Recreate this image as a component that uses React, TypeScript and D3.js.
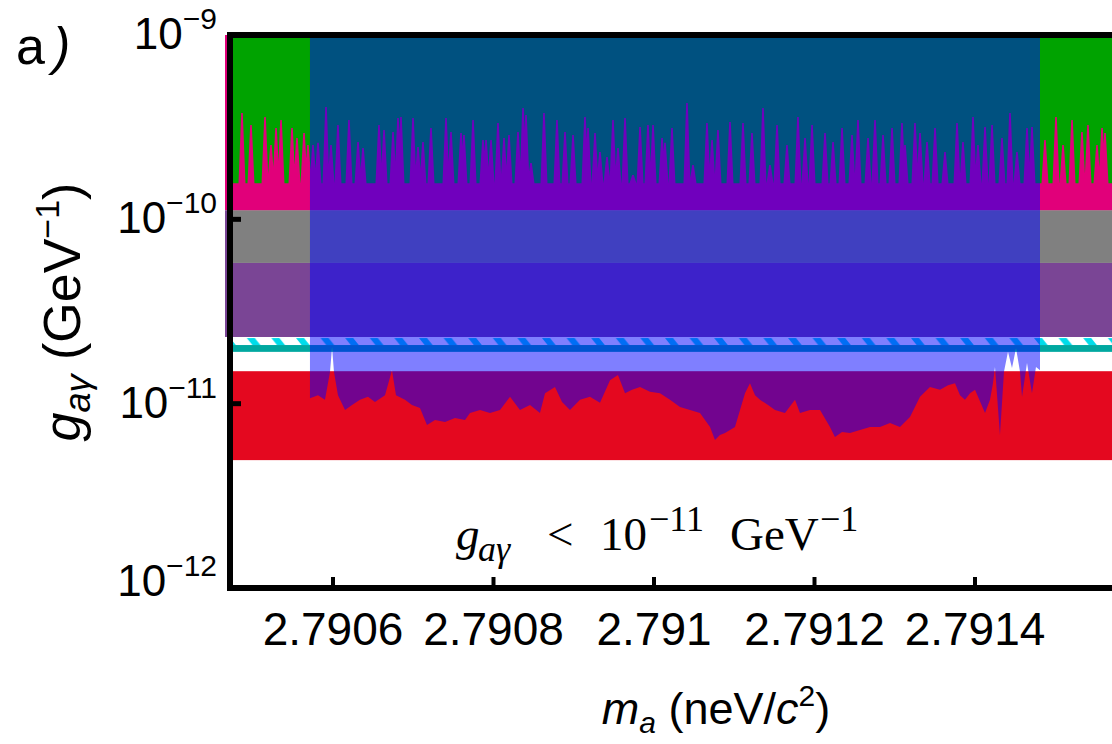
import React from 'react';
import * as d3 from 'd3';

// axis ticks
const massTicks = [2.7906, 2.7908, 2.791, 2.7912, 2.7914];
const massTickLabels = ['2.7906', '2.7908', '2.791', '2.7912', '2.7914'];
const couplingTicks = [1e-12, 1e-11, 1e-10, 1e-9];
const couplingTickExps = ['−12', '−11', '−10', '−9'];

// flat exclusion bands in g (GeV^-1), lower / upper edge
const bandKeys = ['green', 'gray', 'purple', 'hatch', 'line', 'red'];
const bandLower = [1.12e-10, 5.8e-11, 2.3e-11, 2.08e-11, 1.91e-11, 4.94e-12];
const bandUpper = [1e-9, 1.12e-10, 5.8e-11, 2.27e-11, 2.08e-11, 1.5e-11];

// pink band with a spiky upper edge
const pinkFloor = 1.12e-10;
const pinkBaseline = 1.57e-10;
const pinkPeakMass = [
  2.7904866, 2.7904978, 2.7905153, 2.7905227, 2.790529, 2.7905352, 2.7905489, 2.7905551, 2.7905639, 2.7905688,
  2.7905751, 2.7905813, 2.7905913, 2.7905975, 2.7906062, 2.7906199, 2.7906312, 2.7906374, 2.7906573, 2.7906636,
  2.7906748, 2.790681, 2.7906847, 2.7906997, 2.7907059, 2.7907121, 2.7907221, 2.7907408, 2.790747, 2.7907595,
  2.7907632, 2.7907745, 2.7907869, 2.7907907, 2.7907969, 2.7908056, 2.7908131, 2.7908193, 2.7908305, 2.7908368,
  2.7908405, 2.7908467, 2.7908629, 2.7908791, 2.7908891, 2.7908991, 2.790914, 2.7909178, 2.7909265, 2.7909327,
  2.7909414, 2.7909489, 2.7909551, 2.7909639, 2.7909738, 2.7909826, 2.7909925, 2.7909988, 2.79101, 2.7910137,
  2.7910224, 2.7910411, 2.7910486, 2.791066, 2.7910723, 2.7910797, 2.7910947, 2.7911109, 2.7911221, 2.7911358,
  2.7911445, 2.7911533, 2.7911657, 2.7911794, 2.7911882, 2.7911969, 2.7912131, 2.7912231, 2.7912343, 2.7912467,
  2.7912542, 2.7912667, 2.7912754, 2.7912854, 2.7912966, 2.791309, 2.7913128, 2.7913252, 2.7913315, 2.7913402,
  2.7913502, 2.7913626, 2.7913776, 2.791385, 2.7913975, 2.7914037, 2.7914125, 2.7914212, 2.7914336, 2.7914436,
  2.7914523, 2.7914648, 2.791471, 2.7914872, 2.7915009, 2.7915097, 2.7915209, 2.7915333, 2.7915408, 2.791552,
  2.7915583, 2.791562,
];
const pinkPeakG = [
  3.78e-10, 3.25e-10, 3.59e-10, 2.53e-10, 3.13e-10, 3.46e-10, 3.13e-10, 2.76e-10, 2.94e-10, 2.53e-10,
  2.53e-10, 2.6e-10, 4.07e-10, 2.53e-10, 3.25e-10, 3.46e-10, 2.63e-10, 2.44e-10, 3.25e-10, 3.05e-10,
  2.98e-10, 3.55e-10, 3.59e-10, 3.55e-10, 2.47e-10, 2.63e-10, 3.13e-10, 3.55e-10, 2.98e-10, 2.94e-10,
  2.87e-10, 3.46e-10, 2.69e-10, 2.69e-10, 2.69e-10, 3.33e-10, 2.76e-10, 2.87e-10, 2.98e-10, 4.02e-10,
  3.68e-10, 2.02e-10, 3.78e-10, 3.46e-10, 2.98e-10, 2.87e-10, 3.59e-10, 3.13e-10, 2.94e-10, 2.32e-10,
  2.18e-10, 3.46e-10, 2.44e-10, 3.55e-10, 1.74e-10, 3.17e-10, 3.25e-10, 3.25e-10, 2.76e-10, 2.6e-10,
  3.13e-10, 4.28e-10, 1.97e-10, 3.33e-10, 2.69e-10, 3.05e-10, 3.37e-10, 3.33e-10, 2.94e-10, 4.02e-10,
  1.97e-10, 3.25e-10, 2.53e-10, 3.59e-10, 2.76e-10, 3.25e-10, 2.94e-10, 2.63e-10, 3.13e-10, 2.87e-10,
  3.46e-10, 2.76e-10, 3.46e-10, 2.87e-10, 3.13e-10, 3.33e-10, 2.53e-10, 3.33e-10, 2.94e-10, 2.63e-10,
  3.13e-10, 2.32e-10, 3.33e-10, 2.63e-10, 3.59e-10, 2.53e-10, 3.17e-10, 3.25e-10, 2.76e-10, 3.78e-10,
  2.32e-10, 3.13e-10, 3.17e-10, 2.69e-10, 3.59e-10, 2.53e-10, 3.46e-10, 2.98e-10, 3.25e-10, 2.53e-10,
  3.13e-10, 2.94e-10,
];

// scanned region (blue overlay), lower limit per mass
const scanTop = 1e-9;
const scanMass = [
  2.7905713, 2.7905813, 2.79059, 2.7905963, 2.7905988, 2.7906012, 2.7906062, 2.790615, 2.7906237, 2.7906336,
  2.7906436, 2.7906523, 2.7906648, 2.7906735, 2.7906785, 2.7906897, 2.7906984, 2.7907084, 2.7907171, 2.7907271,
  2.7907396, 2.790752, 2.7907645, 2.7907707, 2.7907832, 2.7907956, 2.7908081, 2.7908206, 2.790833, 2.7908455,
  2.7908579, 2.7908642, 2.7908766, 2.7908854, 2.7908953, 2.7909078, 2.7909202, 2.7909327, 2.7909452, 2.7909551,
  2.7909639, 2.7909726, 2.7909826, 2.790995, 2.7910075, 2.7910199, 2.7910324, 2.7910449, 2.7910573, 2.7910698,
  2.791076, 2.7910822, 2.7910885, 2.7911009, 2.7911134, 2.7911196, 2.7911259, 2.7911321, 2.7911421, 2.7911508,
  2.7911632, 2.7911757, 2.7911819, 2.7911944, 2.7912069, 2.7912193, 2.7912255, 2.7912343, 2.7912442, 2.7912567,
  2.7912692, 2.7912816, 2.7912941, 2.7913065, 2.791319, 2.7913315, 2.7913439, 2.7913564, 2.7913664, 2.7913751,
  2.7913813, 2.7913875, 2.7913938, 2.7914, 2.7914125, 2.7914187, 2.7914224, 2.7914249, 2.7914311, 2.7914361,
  2.7914411, 2.7914461, 2.7914511, 2.7914561, 2.7914586, 2.7914648, 2.791471, 2.791476, 2.791481,
];
const scanLimit = [
  1.07e-11, 1.11e-11, 1.05e-11, 1.49e-11, 2.03e-11, 1.49e-11, 1.11e-11, 9.24e-12, 9.83e-12, 1.05e-11,
  1.09e-11, 1.02e-11, 1.11e-11, 1.52e-11, 1.11e-11, 1.05e-11, 9.83e-12, 9.47e-12, 7.66e-12, 8.15e-12,
  7.95e-12, 8.36e-12, 8.15e-12, 8.9e-12, 9.24e-12, 8.9e-12, 9.24e-12, 1.09e-11, 9.24e-12, 9.83e-12,
  8.9e-12, 1.14e-11, 1.23e-11, 1.02e-11, 9.24e-12, 1.05e-11, 1.09e-11, 1.01e-11, 1.34e-11, 1.43e-11,
  1.14e-11, 1.19e-11, 1.23e-11, 1.16e-11, 1.14e-11, 1.05e-11, 9.59e-12, 9.24e-12, 8.9e-12, 7.47e-12,
  6.35e-12, 6.76e-12, 6.93e-12, 7.47e-12, 1.14e-11, 1.29e-11, 1.11e-11, 1.05e-11, 9.83e-12, 9.24e-12,
  8.9e-12, 1.05e-11, 8.9e-12, 9.24e-12, 9.24e-12, 7.47e-12, 6.59e-12, 7.02e-12, 6.93e-12, 7.2e-12,
  7.47e-12, 7.47e-12, 7.85e-12, 7.47e-12, 8.47e-12, 1.09e-11, 1.23e-11, 1.19e-11, 1.26e-11, 1.29e-11,
  1.11e-11, 1.05e-11, 1.14e-11, 1.19e-11, 8.9e-12, 1.05e-11, 1.29e-11, 1.58e-11, 6.76e-12, 1.49e-11,
  1.91e-11, 1.56e-11, 2.0e-11, 1.49e-11, 1.09e-11, 1.66e-11, 1.14e-11, 1.58e-11, 1.52e-11,
];

const W = 1112;
const H = 744;
const left = 230;
const right = W;
const top = 35;
const bottom = 588;

const bandColors = {
  green: '#00a300',
  gray: '#808080',
  purple: '#7a4595',
  hatch: 'url(#hatch)',
  line: '#00a8a0',
  red: '#e4081f',
};
const pinkColor = '#e1007a';
const sans = '"Liberation Sans", Arial, sans-serif';
const serif = '"Liberation Serif", "Times New Roman", serif';

export default function App() {
  const x = d3.scaleLinear().domain([2.7906, 2.7914]).range([333, 975]);
  const y = d3.scaleLog().domain([1e-12, 1e-9]).range([bottom, top]);

  // spiky pink edge: baseline between spikes, narrow tips at each peak
  const yBase = y(pinkBaseline);
  const pinkPts = [[left - 5, yBase]];
  pinkPeakMass.forEach((m, i) => {
    const px = x(m);
    const py = y(pinkPeakG[i]);
    pinkPts.push([px - 3.5, yBase], [px - 0.8, py], [px + 0.8, py], [px + 3.5, yBase]);
  });
  pinkPts.push([right + 5, yBase]);
  const pinkArea = d3
    .area()
    .x(p => p[0])
    .y0(y(pinkFloor))
    .y1(p => p[1]);

  const scanArea = d3
    .area()
    .x(i => x(scanMass[i]))
    .y0(y(scanTop) - 5)
    .y1(i => y(scanLimit[i]));

  const hatchTop = y(bandUpper[3]);
  const hatchH = y(bandLower[3]) - hatchTop;
  const slant = hatchH * 0.8;

  return (
    <svg
      width={W}
      height={H}
      style={{position: 'absolute', left: 0, top: 0, background: 'white'}}>
      <defs>
        <clipPath id={'plot'}>
          <rect x={left} y={top} width={right - left} height={bottom - top} />
        </clipPath>
        <pattern id={'hatch'} patternUnits={'userSpaceOnUse'} x={419} y={hatchTop} width={24.6} height={hatchH}>
          <rect width={24.6} height={hatchH} fill={'white'} />
          {[-24.6, 0, 24.6].map(o => (
            <polygon
              key={o}
              points={`${o},0 ${o + 8},0 ${o + 8 + slant},${hatchH} ${o + slant},${hatchH}`}
              fill={'#00dcea'}
            />
          ))}
        </pattern>
      </defs>

      {/* thin strip of the upper bands left of the axis */}
      <rect x={225} y={top} width={5} height={y(pinkFloor) - top} fill={pinkColor} />
      <rect x={225} y={y(pinkFloor)} width={5} height={y(bandLower[2]) - y(pinkFloor)} fill={bandColors.purple} />

      <g clipPath={'url(#plot)'}>
        {bandKeys.map((k, i) => (
          <rect
            key={k}
            x={left}
            y={y(bandUpper[i])}
            width={right - left}
            height={y(bandLower[i]) - y(bandUpper[i])}
            fill={bandColors[k]}
          />
        ))}
        <path d={pinkArea(pinkPts)} fill={pinkColor} />
        <path d={scanArea(d3.range(scanMass.length))} fill={'#0000ff'} fillOpacity={0.5} />
      </g>

      {/* frame */}
      <line x1={227} x2={W} y1={top} y2={top} stroke={'black'} strokeWidth={6} />
      <line x1={left} x2={left} y1={top - 3} y2={bottom + 3} stroke={'black'} strokeWidth={6} />
      <line x1={227} x2={W} y1={bottom} y2={bottom} stroke={'black'} strokeWidth={6} />

      {massTicks.map((t, i) => (
        <g key={t}>
          <line x1={x(t)} x2={x(t)} y1={bottom} y2={bottom - 11} stroke={'black'} strokeWidth={4} />
          <text x={x(t)} y={645} textAnchor={'middle'} fontFamily={sans} fontSize={46}>
            {massTickLabels[i]}
          </text>
        </g>
      ))}

      {couplingTicks.map((t, i) => (
        <g key={t}>
          <line x1={left} x2={left + 11} y1={y(t)} y2={y(t)} stroke={'black'} strokeWidth={5} />
          <text
            x={217}
            y={i === 0 ? y(t) + 8 : y(t) + 14}
            textAnchor={'end'}
            fontFamily={sans}
            fontSize={44}>
            10
            <tspan dy={-20} fontSize={30}>
              {couplingTickExps[i]}
            </tspan>
          </text>
        </g>
      ))}

      {/* panel label */}
      <text x={16} y={64} fontFamily={sans} fontSize={52}>
        a<tspan dx={8} fontStyle={'italic'}>)</tspan>
      </text>

      {/* axis titles */}
      <text x={716} y={724} textAnchor={'middle'} fontFamily={sans} fontSize={45}>
        <tspan fontStyle={'italic'}>m</tspan>
        <tspan dy={9} fontSize={30} fontStyle={'italic'}>a</tspan>
        <tspan dy={-9}> (neV/</tspan>
        <tspan fontStyle={'italic'}>c</tspan>
        <tspan dy={-18} fontSize={30}>2</tspan>
        <tspan dy={18}>)</tspan>
      </text>
      <text transform={'translate(80,312) rotate(-90)'} textAnchor={'middle'} fontFamily={sans} fontSize={52}>
        <tspan fontStyle={'italic'}>g</tspan>
        <tspan dy={10} fontSize={36} fontStyle={'italic'}>aγ</tspan>
        <tspan dy={-10}> (GeV</tspan>
        <tspan dy={-21} fontSize={34}>−1</tspan>
        <tspan dy={21}>)</tspan>
      </text>

      {/* annotation */}
      <text y={550} fontFamily={serif} fontSize={47}>
        <tspan x={456} fontStyle={'italic'}>g</tspan>
        <tspan x={478} dy={11} fontSize={36} fontStyle={'italic'}>aγ</tspan>
        <tspan x={547} dy={-11}>&lt;</tspan>
        <tspan x={600}>10</tspan>
        <tspan x={649} dy={-19} fontSize={36}>−11</tspan>
        <tspan x={730} dy={19}>GeV</tspan>
        <tspan x={820} dy={-19} fontSize={36}>−1</tspan>
      </text>
    </svg>
  );
}
